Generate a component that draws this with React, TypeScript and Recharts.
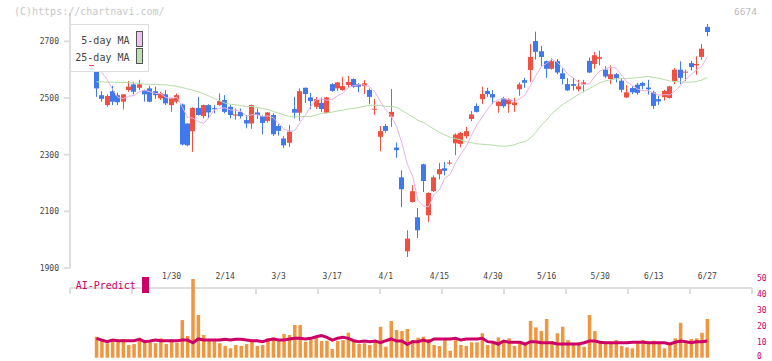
import React from 'react';
import { ComposedChart, Bar, Line, XAxis, YAxis } from 'recharts';

// ---- data ----
const OPEN = [2593,2510,2475,2524,2510,2487,2528,2548,2536,2528,2534,2524,2499,2513,2475,2487,2477,2410,2383,2465,2436,2475,2464,2475,2493,2469,2438,2451,2422,2410,2449,2436,2419,2440,2401,2357,2342,2461,2448,2536,2502,2469,2483,2448,2549,2534,2528,2546,2567,2549,2542,2528,2460,2363,2401,2434,2325,2220,1959,2133,2079,2266,2086,2171,2231,2252,2270,2340,2338,2365,2426,2472,2496,2525,2514,2472,2499,2478,2475,2531,2563,2599,2701,2665,2630,2603,2630,2587,2549,2549,2531,2548,2631,2620,2638,2600,2567,2584,2561,2502,2535,2547,2553,2537,2520,2496,2503,2500,2559,2600,2590,2623,2615,2645,2751];
const HIGH = [2602,2524,2513,2543,2519,2513,2560,2557,2564,2530,2543,2540,2522,2528,2501,2516,2480,2410,2467,2504,2477,2478,2475,2516,2510,2475,2463,2463,2440,2477,2463,2438,2451,2446,2408,2365,2405,2504,2534,2537,2518,2504,2502,2504,2552,2557,2575,2578,2569,2552,2563,2534,2496,2401,2408,2532,2343,2245,2033,2192,2112,2268,2167,2227,2271,2274,2281,2375,2380,2398,2454,2481,2540,2536,2528,2489,2504,2499,2501,2555,2571,2690,2734,2684,2632,2640,2638,2605,2570,2570,2564,2564,2643,2662,2667,2612,2615,2588,2570,2545,2541,2553,2557,2564,2526,2508,2529,2543,2606,2629,2600,2631,2647,2690,2761];
const LOW = [2504,2487,2469,2475,2475,2460,2522,2513,2528,2487,2485,2497,2493,2475,2451,2481,2333,2330,2310,2438,2428,2428,2446,2473,2446,2428,2424,2428,2393,2391,2426,2372,2413,2366,2367,2324,2327,2428,2419,2483,2461,2461,2451,2446,2522,2525,2526,2536,2536,2520,2514,2478,2440,2312,2378,2398,2289,2115,1939,2131,2006,2168,2062,2168,2213,2227,2264,2298,2326,2357,2418,2449,2478,2504,2478,2448,2465,2448,2451,2508,2536,2557,2636,2613,2571,2600,2584,2548,2525,2527,2523,2520,2588,2603,2615,2570,2549,2555,2520,2500,2514,2512,2531,2512,2462,2476,2491,2498,2549,2549,2560,2597,2582,2635,2718];
const CLOSE = [2534,2497,2507,2487,2485,2513,2540,2522,2548,2513,2487,2510,2516,2481,2499,2510,2336,2333,2465,2440,2475,2449,2463,2489,2451,2440,2442,2436,2410,2475,2440,2412,2449,2372,2384,2333,2381,2448,2524,2514,2489,2496,2461,2502,2525,2555,2542,2557,2540,2540,2552,2504,2462,2383,2384,2451,2316,2178,2004,2171,2033,2207,2165,2220,2249,2243,2272,2371,2377,2383,2442,2451,2514,2514,2502,2487,2471,2496,2484,2548,2554,2645,2663,2645,2603,2630,2590,2567,2527,2543,2541,2555,2590,2651,2644,2576,2584,2570,2529,2520,2520,2518,2543,2531,2472,2488,2525,2541,2600,2571,2593,2609,2620,2674,2733];
const MA5 = [2605,2590,2565,2530,2502,2498,2506,2509,2522,2527,2522,2516,2515,2501,2499,2503,2468,2432,2429,2417,2410,2432,2458,2463,2465,2458,2457,2452,2436,2441,2441,2435,2437,2430,2411,2390,2384,2384,2414,2440,2471,2494,2497,2492,2495,2508,2517,2536,2544,2547,2546,2539,2520,2488,2457,2437,2399,2342,2267,2224,2140,2119,2116,2159,2175,2217,2230,2271,2302,2329,2369,2405,2433,2461,2485,2494,2498,2494,2488,2497,2511,2545,2579,2611,2622,2637,2626,2607,2583,2571,2554,2547,2551,2576,2596,2603,2609,2605,2581,2556,2545,2531,2526,2526,2517,2510,2512,2511,2525,2545,2566,2583,2599,2613,2646];
const MA25 = [2557,2557,2556,2556,2555,2555,2554,2553,2551,2549,2548,2548,2547,2546,2544,2541,2537,2532,2527,2522,2515,2507,2498,2490,2482,2478,2476,2473,2470,2470,2467,2462,2459,2452,2447,2440,2435,2433,2434,2435,2434,2440,2446,2447,2450,2454,2457,2461,2463,2467,2471,2474,2475,2474,2470,2470,2467,2456,2445,2433,2421,2414,2402,2390,2379,2370,2361,2357,2352,2346,2342,2338,2337,2335,2334,2331,2330,2331,2335,2342,2346,2359,2379,2404,2422,2445,2461,2477,2489,2501,2513,2524,2533,2544,2554,2560,2565,2567,2568,2569,2570,2572,2574,2576,2572,2570,2565,2560,2558,2557,2556,2556,2558,2564,2572];
const VOLUME = [13.2,11.8,9.1,11.1,10.5,11.8,8.0,8.6,12.6,11.1,9.7,9.1,12.2,8.6,11.6,9.4,23.7,13.7,49.6,26.9,14.3,10.5,11.1,9.1,7.4,5.9,8.0,7.4,8.6,10.1,7.4,8.0,12.2,12.8,11.1,14.9,14.3,20.6,20.6,10.1,11.6,13.2,10.5,10.7,5.5,10.5,11.1,15.7,10.5,8.6,9.1,8.0,10.1,19.5,6.9,23.1,17.4,16.8,18.1,11.1,12.6,13.2,11.8,8.0,7.4,11.1,4.4,11.1,8.0,7.4,9.7,9.7,15.4,8.0,10.1,12.8,10.5,12.2,7.4,10.1,8.0,23.1,19.1,16.8,24.4,10.5,15.4,19.5,11.1,8.6,9.4,6.9,26.9,16.8,10.1,8.6,9.1,11.1,7.4,6.5,5.9,9.4,11.1,10.1,10.7,8.6,5.9,9.1,12.2,22.0,9.1,11.8,12.2,15.7,24.4];
const AI_PREDICT = [12.2,11.1,10.1,11.1,10.7,10.7,10.7,10.7,11.6,10.1,10.5,11.1,10.7,10.7,10.7,10.7,11.1,11.1,9.4,11.8,11.1,11.1,11.1,11.1,11.6,11.1,11.6,11.6,11.1,10.7,10.7,10.1,11.1,11.8,11.1,11.1,11.8,12.2,12.2,11.8,12.2,13.2,13.9,12.8,11.1,12.2,12.8,12.2,10.7,10.1,10.5,10.1,10.5,9.4,10.7,11.8,10.5,10.5,8.4,10.1,10.1,11.1,10.1,11.8,11.8,11.8,11.8,12.2,11.1,11.8,11.8,11.8,12.2,10.1,9.7,8.6,10.5,9.7,9.7,9.7,8.6,10.1,10.1,9.4,9.4,9.4,8.6,8.6,8.6,8.6,8.6,9.4,10.5,10.5,9.7,9.4,9.4,9.4,9.4,9.4,9.7,9.7,9.7,9.4,9.4,9.4,9.4,8.6,9.7,10.5,10.1,9.4,10.1,10.1,10.5];
const DATE_IDX = [14,24,34,44,54,64,74,84,94,104,114];
const DATE_LABELS = ['1/30','2/14','3/3','3/17','4/1','4/15','4/30','5/16','5/30','6/13','6/27'];
const PRICE_TICKS = [1900,2100,2300,2500,2700];
const AI_TICKS = [0,10,20,30,40,50];

const rows = OPEN.map((o, i) => ({
  i,
  open: o,
  high: HIGH[i],
  low: LOW[i],
  close: CLOSE[i],
  range: [LOW[i], HIGH[i]],
  ma5: MA5[i],
  ma25: MA25[i],
  vol: VOLUME[i],
  ai: AI_PREDICT[i],
}));

const XMIN = -4.946;
const XMAX = 122.34;
const GRID_TICKS = Array.from({ length: 12 }, (_, k) => XMIN + (k * (XMAX - XMIN)) / 11);

const RED = '#f05040';
const BLUE = '#4078ee';
const FONT = '"DejaVu Sans Mono", monospace';
const AXIS = '#dedede';

const Candle = (props: any) => {
  const { x, y, width, height, payload } = props;
  if (payload == null || !isFinite(height)) return null;
  const { open, close, high, low } = payload;
  const k = high > low ? height / (high - low) : 0;
  const cx = x + width / 2;
  const top = y + (high - Math.max(open, close)) * k;
  const bot = y + (high - Math.min(open, close)) * k;
  const color = close >= open ? RED : BLUE;
  const bx = Math.round(cx - 2.5);
  return (
    <g>
      <line x1={bx + 2.5} x2={bx + 2.5} y1={y} y2={y + height} stroke={color} strokeWidth={1} />
      <rect x={bx} y={top} width={5} height={Math.max(1, bot - top)} fill={color} />
    </g>
  );
};

const AiTick = (props: any) => {
  const { x, y, payload } = props;
  const v = payload?.value;
  const yy = v === 0 ? Math.min(y, 356.4) : y;
  return (
    <text x={x} y={yy} dy="0.355em" textAnchor="start" fill="#cc0066" fontSize={8} fontFamily={FONT}>
      {v}
    </text>
  );
};

const abs = (style: React.CSSProperties): React.CSSProperties => ({ position: 'absolute', ...style });

export default function App() {
  return (
    <div style={abs({ left: 0, top: 0, width: 772, height: 361, background: '#fff', overflow: 'hidden', fontFamily: FONT })}>
      <div style={abs({ left: 0, top: 0 })}>
        <ComposedChart width={772} height={295} data={rows} margin={{ top: 13, right: 20, bottom: 0, left: 0 }}>
          <XAxis
            xAxisId="x"
            dataKey="i"
            type="number"
            domain={[XMIN, XMAX]}
            allowDataOverflow
            ticks={GRID_TICKS}
            interval={0}
            tickFormatter={() => ''}
            height={7}
            tickSize={6}
            axisLine={{ stroke: AXIS, strokeWidth: 2 }}
            tickLine={{ stroke: AXIS, strokeWidth: 2 }}
          />
          <XAxis
            xAxisId="d"
            dataKey="i"
            type="number"
            domain={[XMIN, XMAX]}
            allowDataOverflow
            ticks={DATE_IDX}
            interval={0}
            tickFormatter={(v: number) => DATE_LABELS[DATE_IDX.indexOf(v)] ?? ''}
            height={20}
            tickSize={0}
            tickMargin={5}
            axisLine={false}
            tickLine={false}
            tick={{ fill: '#444', fontSize: 8, fontFamily: FONT }}
          />
          <YAxis
            yAxisId="p"
            domain={[1900, 2800]}
            ticks={PRICE_TICKS}
            interval={0}
            width={70}
            tickSize={6}
            tickMargin={5}
            axisLine={{ stroke: AXIS, strokeWidth: 2 }}
            tickLine={{ stroke: AXIS, strokeWidth: 2 }}
            tick={{ fill: '#444', fontSize: 8, fontFamily: FONT }}
          />
          <Bar xAxisId="x" yAxisId="p" dataKey="range" barSize={5} shape={Candle} isAnimationActive={false} />
          <Line xAxisId="x" yAxisId="p" dataKey="ma25" stroke="#b5dca5" strokeWidth={1} dot={false} type="linear" isAnimationActive={false} />
          <Line xAxisId="x" yAxisId="p" dataKey="ma5" stroke="#e8b2ea" strokeWidth={1} dot={false} type="linear" isAnimationActive={false} />
          <Line xAxisId="d" yAxisId="p" dataKey="ma25" stroke="none" dot={false} isAnimationActive={false} legendType="none" />
        </ComposedChart>
      </div>
      <div style={abs({ left: 0, top: 0 })}>
        <ComposedChart width={772} height={361} data={rows} margin={{ top: 278.3, right: 0, bottom: 3.3, left: 70 }}>
          <XAxis dataKey="i" type="number" domain={[XMIN, XMAX]} allowDataOverflow hide />
          <YAxis
            yAxisId="v"
            orientation="right"
            domain={[0, 50]}
            ticks={AI_TICKS}
            interval={0}
            width={20}
            tickSize={0}
            tickMargin={5}
            axisLine={false}
            tickLine={false}
            tick={<AiTick />}
          />
          <Bar yAxisId="v" dataKey="vol" fill="#f0963f" barSize={3.5} isAnimationActive={false} />
          <Line yAxisId="v" dataKey="ai" stroke="#cc0066" strokeWidth={3} dot={false} type="linear" isAnimationActive={false} />
        </ComposedChart>
      </div>

      {/* watermark and code */}
      <div style={abs({ left: 14, top: 5.8, fontSize: 10, lineHeight: '12px', color: '#c8c8c8', whiteSpace: 'nowrap' })}>(C)https://chartnavi.com/</div>
      <div style={abs({ left: 734, top: 6.4, fontSize: 9.5, lineHeight: '12px', color: '#bbbbbb', whiteSpace: 'nowrap' })}>6674</div>

      {/* MA legend */}
      <div style={abs({ left: 70, top: 24, width: 77, height: 46, border: '1px solid #dddddd', background: '#fff' })} />
      <div style={abs({ right: 772 - 129.5, top: 34.8, fontSize: 10, lineHeight: '12px', color: '#444', whiteSpace: 'nowrap' })}>5-day MA</div>
      <div style={abs({ left: 136, top: 31, width: 5, height: 14, border: '1px solid #555', background: '#efc2ef' })} />
      <div style={abs({ right: 772 - 129.5, top: 51.5, fontSize: 10, lineHeight: '12px', color: '#444', whiteSpace: 'nowrap' })}>25-day MA</div>
      <div style={abs({ left: 136, top: 48.3, width: 5, height: 14, border: '1px solid #555', background: '#bde0b5' })} />
      <div style={abs({ left: 89, top: 64.5, width: 5, height: 1.3, background: RED })} />

      {/* AI-Predict label */}
      <div style={abs({ left: 75.7, top: 280.2, fontSize: 10, lineHeight: '12px', color: '#cc0066', whiteSpace: 'nowrap' })}>AI-Predict</div>
      <div style={abs({ left: 142, top: 276.7, width: 7, height: 16, background: '#cc0066' })} />
    </div>
  );
}
